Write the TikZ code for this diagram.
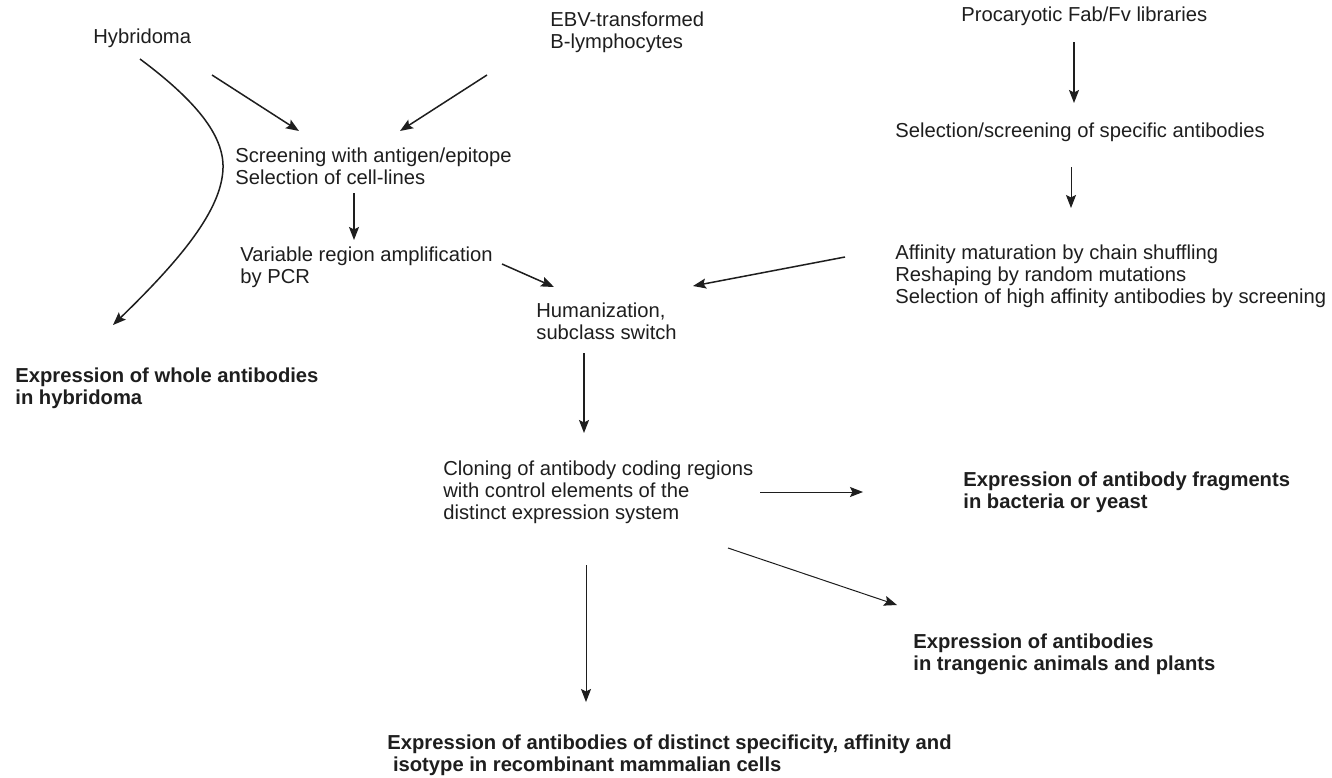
\documentclass[tikz,border=0pt]{standalone}
\usepackage{fontspec}
\setmainfont{Liberation Sans}
\usetikzlibrary{arrows.meta}
\definecolor{ink}{HTML}{1E1E1E}
\tikzset{
  lbl/.style={anchor=base west, inner sep=0pt, align=left, text=ink,
    font=\fontsize{10.1}{11}\selectfont},
  blbl/.style={lbl, font=\fontsize{10.1}{11}\selectfont\bfseries},
  arr/.style={draw=ink, line width=0.75pt, -{Stealth[length=6.5pt,width=5pt,inset=1.2pt]}},
  tarr/.style={arr, line width=0.5pt}
}
\begin{document}
\begin{tikzpicture}[x=0.5pt,y=-0.5pt]
\useasboundingbox[fill=white] (0,0) rectangle (1332,777);

% texts (anchor = baseline of the last line)
\node[lbl] (hyb) at (93,43) {Hybridoma};
\node[lbl] (ebv) at (550,48) {EBV-transformed\\B-lymphocytes};
\node[lbl] (proc) at (961,21) {Procaryotic Fab/Fv libraries};
\node[lbl] (selspec) at (895,137) {Selection/screening of specific antibodies};
\node[lbl] (aff) at (895,303) {Affinity maturation by chain shuffling\\Reshaping by random mutations\\Selection of high affinity antibodies by screening};
\node[lbl] (scr) at (235,184) {Screening with antigen/epitope\\Selection of cell-lines};
\node[lbl] (var) at (240,283) {Variable region amplification\\by PCR};
\node[lbl] (hum) at (536,339) {Humanization,\\subclass switch};
\node[blbl] (whole) at (15,404) {Expression of whole antibodies\\in hybridoma};
\node[lbl] (clon) at (443,519) {Cloning of antibody coding regions\\with control elements of the\\distinct expression system};
\node[blbl] (frag) at (963,508) {Expression of antibody fragments\\in bacteria or yeast};
\node[blbl] (trans) at (913,670) {Expression of antibodies\\in trangenic animals and plants};
\node[blbl] (mamm) at (387,771) {Expression of antibodies of distinct specificity, affinity and\\\ isotype in recombinant mammalian cells};

% connector end points
\coordinate (c1s) at (140,59);
\coordinate (c1m) at (223,168);
\coordinate (c1e) at (113,325);
\coordinate (a1s) at (212,75);   \coordinate (a1e) at (299,131);
\coordinate (a2s) at (487,75);   \coordinate (a2e) at (400,131);
\coordinate (a3s) at (354,193);  \coordinate (a3e) at (354,240);
\coordinate (a4s) at (502,264);  \coordinate (a4e) at (554,287);
\coordinate (a5s) at (845,257);  \coordinate (a5e) at (693,286);
\coordinate (a6s) at (1074,42);  \coordinate (a6e) at (1074,103);
\coordinate (a7s) at (1071,167); \coordinate (a7e) at (1071,208);
\coordinate (a8s) at (584,353);  \coordinate (a8e) at (584,433);
\coordinate (a9s) at (760,492);  \coordinate (a9e) at (863,492);
\coordinate (a10s) at (728,548); \coordinate (a10e) at (897,605);
\coordinate (a11s) at (586,565); \coordinate (a11e) at (586,702);

% connectors
\draw[arr] (c1s) .. controls (195,100) and (224,135) .. (c1m)
                 .. controls (222,210) and (180,260) .. (c1e);
\draw[arr] (a1s) -- (a1e);
\draw[arr] (a2s) -- (a2e);
\draw[arr] (a3s) -- (a3e);
\draw[arr] (a4s) -- (a4e);
\draw[arr] (a5s) -- (a5e);
\draw[arr] (a6s) -- (a6e);
\draw[tarr] (a7s) -- (a7e);
\draw[arr] (a8s) -- (a8e);
\draw[tarr] (a9s) -- (a9e);
\draw[tarr] (a10s) -- (a10e);
\draw[tarr] (a11s) -- (a11e);
\end{tikzpicture}
\end{document}
